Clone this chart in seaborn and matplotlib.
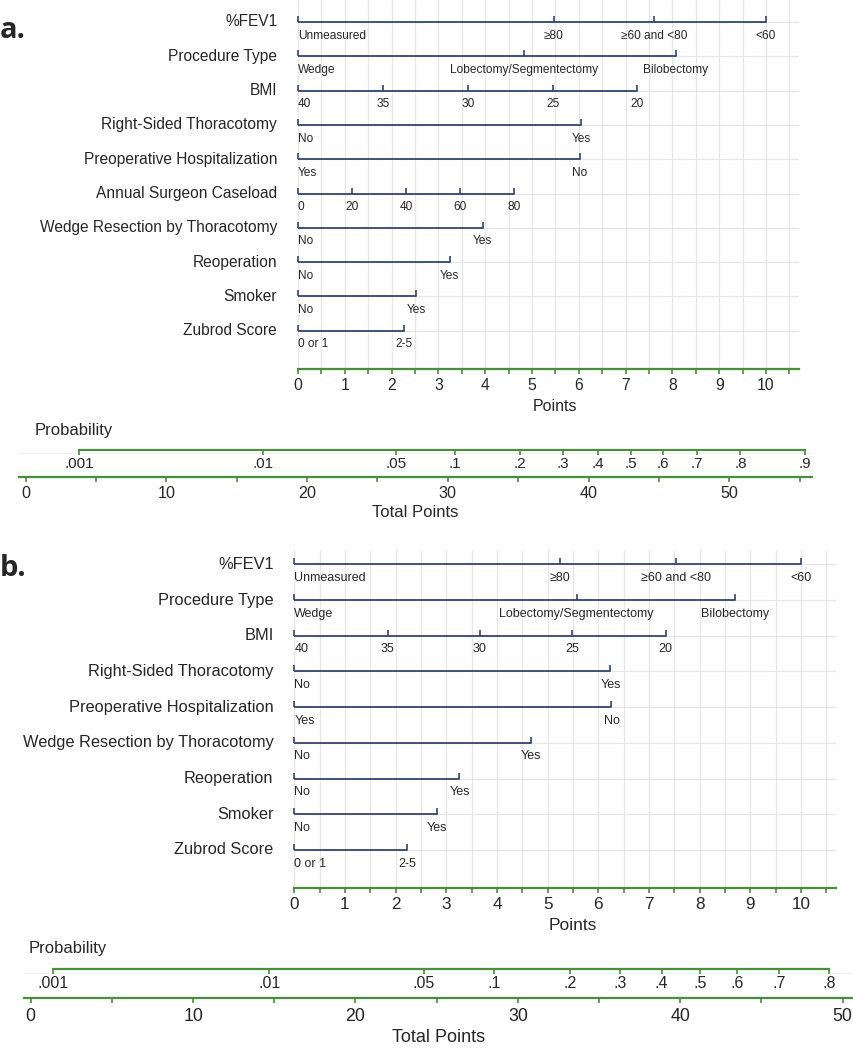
import numpy as np
import pandas as pd
import matplotlib
matplotlib.use("Agg")
import matplotlib.pyplot as plt
import seaborn as sns

# ---- data (points scale 0-10) ----
a_vars = ["%FEV1", "Procedure Type", "BMI", "Right-Sided Thoracotomy",
          "Preoperative Hospitalization", "Annual Surgeon Caseload",
          "Wedge Resection by Thoracotomy", "Reoperation", "Smoker", "Zubrod Score"]
a_labels = [["Unmeasured", "≥80", "≥60 and <80", "<60"],
            ["Wedge", "Lobectomy/Segmentectomy", "Bilobectomy"],
            ["40", "35", "30", "25", "20"],
            ["No", "Yes"], ["Yes", "No"],
            ["0", "20", "40", "60", "80"],
            ["No", "Yes"], ["No", "Yes"], ["No", "Yes"], ["0 or 1", "2-5"]]
a_points = [[0, 5.47, 7.61, 10.0], [0, 4.82, 8.07], [0, 1.82, 3.63, 5.44, 7.25],
            [0, 6.05], [0, 6.02], [0, 1.16, 2.31, 3.47, 4.62],
            [0, 3.95], [0, 3.24], [0, 2.52], [0, 2.26]]
a_prob_labels = [".001", ".01", ".05", ".1", ".2", ".3", ".4", ".5", ".6", ".7", ".8", ".9"]
a_prob_total = [3.8, 16.9, 26.3, 30.5, 35.1, 38.2, 40.7, 43.0, 45.3, 47.7, 50.8, 55.4]

b_vars = ["%FEV1", "Procedure Type", "BMI", "Right-Sided Thoracotomy",
          "Preoperative Hospitalization", "Wedge Resection by Thoracotomy",
          "Reoperation", "Smoker", "Zubrod Score"]
b_labels = [["Unmeasured", "≥80", "≥60 and <80", "<60"],
            ["Wedge", "Lobectomy/Segmentectomy", "Bilobectomy"],
            ["40", "35", "30", "25", "20"],
            ["No", "Yes"], ["Yes", "No"], ["No", "Yes"], ["No", "Yes"],
            ["No", "Yes"], ["0 or 1", "2-5"]]
b_points = [[0, 5.25, 7.53, 10.0], [0, 5.57, 8.69], [0, 1.84, 3.66, 5.49, 7.33],
            [0, 6.24], [0, 6.26], [0, 4.67], [0, 3.26], [0, 2.82], [0, 2.23]]
b_prob_labels = [".001", ".01", ".05", ".1", ".2", ".3", ".4", ".5", ".6", ".7", ".8"]
b_prob_total = [1.35, 14.7, 24.2, 28.55, 33.2, 36.3, 38.85, 41.2, 43.5, 46.1, 49.15]

points_ticks = list(range(0, 11))
a_total_ticks = [0, 10, 20, 30, 40, 50]
b_total_ticks = [0, 10, 20, 30, 40, 50]

W, H = 854, 1050
navy = "#33446e"
green = "#4a8d3b"
gridc = "#e6e6e6"

sns.set_style("white")
plt.rcParams["font.family"] = ["Liberation Sans", "DejaVu Sans"]

fig = plt.figure(figsize=(W / 100, H / 100), dpi=100)


def box(left, right, top, bottom):
    return [left / W, 1 - bottom / H, (right - left) / W, (bottom - top) / H]


def draw_panel(g, names, labels, points, prob_labels, prob_total, total_ticks):
    # main nomogram axes
    ax = fig.add_axes(box(g["x0"], g["x0"] + g["xmax"] * g["ppp"], g["top"], g["axis"]))
    rows = []
    for i, (nm, pts) in enumerate(zip(names, points)):
        for p in pts:
            rows.append({"var": nm, "row": i, "pts": p})
    df = pd.DataFrame(rows)
    sns.lineplot(data=df, x="pts", y="row", units="var", estimator=None, sort=False,
                 color=navy, linewidth=1.3, ax=ax, legend=False)
    ax.plot(df.pts, df.row, ls="none", marker=2, ms=4, mew=1.2, color=navy, clip_on=False)
    ax.set_xlim(0, g["xmax"])
    ax.set_ylim((g["axis"] - g["row0"]) / g["step"], (g["top"] - g["row0"]) / g["step"])
    ax.set_xlabel("")
    ax.set_ylabel("")
    ax.set_xticks(points_ticks)
    ax.set_xticks(np.arange(0.5, 10.6, 1.0), minor=True)
    ax.set_yticks(range(len(names)))
    ax.set_yticklabels([])
    ax.tick_params(axis="y", length=0)
    ax.tick_params(axis="x", which="both", bottom=True, direction="out", length=3.5, width=1.2,
                   color=green, labelsize=g["fs_pts"], pad=3)
    ax.grid(which="both", axis="x", color=gridc, lw=0.9)
    ax.grid(which="major", axis="y", color=gridc, lw=0.9)
    ax.set_axisbelow(True)
    for s in ["top", "left", "right"]:
        ax.spines[s].set_visible(False)
    ax.spines["bottom"].set_color(green)
    ax.spines["bottom"].set_linewidth(1.6)
    for i, (nm, labs, pts) in enumerate(zip(names, labels, points)):
        ax.annotate(nm, (0, i), xytext=(-g["name_gap"], 0), textcoords="offset points",
                    ha="right", va="center", fontsize=g["fs_name"], annotation_clip=False)
        for j, (lb, p) in enumerate(zip(labs, pts)):
            ax.annotate(lb, (p, i), xytext=(0, -5.5), textcoords="offset points",
                        ha="left" if j == 0 else "center", va="top",
                        fontsize=g["fs_lab"], annotation_clip=False)
    ax.annotate("Points", (5.5, 0), xycoords=("data", "axes fraction"),
                xytext=(0, -g["pts_lab"]), textcoords="offset points",
                ha="center", va="center", fontsize=g["fs_ptslab"], annotation_clip=False)

    # total points axis
    t0, t1 = g["tlim"]
    tl = g["tx0"] + t0 * g["ppt"]
    tr = g["tx0"] + t1 * g["ppt"]
    axt = fig.add_axes(box(tl, tr, g["faint"], g["taxis"]))
    axt.set_facecolor("none")
    axt.set_xlim(t0, t1)
    axt.set_yticks([])
    axt.set_xticks(total_ticks)
    axt.set_xticks([t + 5 for t in total_ticks if t + 5 < t1], minor=True)
    axt.tick_params(axis="x", which="both", bottom=True, direction="out", length=3.5, width=1.2,
                    color=green, labelsize=g["fs_tot"], pad=3.5)
    for s in ["left", "right"]:
        axt.spines[s].set_visible(False)
    axt.spines["top"].set_color("#eef2ee")
    axt.spines["bottom"].set_color(green)
    axt.spines["bottom"].set_linewidth(1.6)
    axt.annotate("Total Points", (0.5, 0), xycoords="axes fraction",
                 xytext=(0, -g["tot_lab"]), textcoords="offset points",
                 ha="center", va="center", fontsize=g["fs_totlab"], annotation_clip=False)

    # probability axis
    axp = fig.add_axes(box(tl, tr, g["prob"] - 1, g["prob"]))
    axp.set_facecolor("none")
    axp.set_xlim(t0, t1)
    axp.set_yticks([])
    axp.set_xticks(prob_total)
    axp.set_xticklabels(prob_labels)
    axp.tick_params(axis="x", bottom=True, direction="out", length=3.5, width=1.2, color=green,
                    labelsize=g["fs_prob"], pad=1.5)
    for s in ["left", "right", "top"]:
        axp.spines[s].set_visible(False)
    axp.spines["bottom"].set_color(green)
    axp.spines["bottom"].set_linewidth(1.6)
    axp.spines["bottom"].set_bounds(prob_total[0], prob_total[-1])

    fig.text(g["ptitle"][0] / W, 1 - g["ptitle"][1] / H, "Probability",
             ha="left", va="center", fontsize=g["fs_ptitle"])
    fig.text(0, 1 - g["letter_y"] / H, g["letter"], ha="left", va="center",
             fontsize=21, fontweight="bold", family=["Open Sans", "DejaVu Sans"])


geo_a = dict(x0=298, ppp=46.8, xmax=10.7, top=0, row0=22, step=34.3, axis=369,
             name_gap=15, fs_name=11.2, fs_lab=8.6, fs_pts=11.3, fs_ptslab=11.5, pts_lab=27,
             tx0=25.7, ppt=14.07, tlim=(-0.47, 55.9), faint=453, taxis=476.7, prob=450,
             fs_tot=11.6, fs_totlab=12, tot_lab=26, fs_prob=11, ptitle=(35, 431), fs_ptitle=12,
             letter="a.", letter_y=31)
geo_b = dict(x0=294.3, ppp=50.67, xmax=10.7, top=550, row0=564.3, step=35.7, axis=888.3,
             name_gap=15, fs_name=11.8, fs_lab=9.0, fs_pts=12.3, fs_ptslab=12.5, pts_lab=27,
             tx0=30.7, ppt=16.24, tlim=(-0.41, 50.7), faint=973, taxis=998.3, prob=969,
             fs_tot=12.8, fs_totlab=13, tot_lab=28, fs_prob=11.5, ptitle=(29, 949), fs_ptitle=12,
             letter="b.", letter_y=568)

draw_panel(geo_a, a_vars, a_labels, a_points, a_prob_labels, a_prob_total, a_total_ticks)
draw_panel(geo_b, b_vars, b_labels, b_points, b_prob_labels, b_prob_total, b_total_ticks)

fig.savefig("out.png", dpi=100)
